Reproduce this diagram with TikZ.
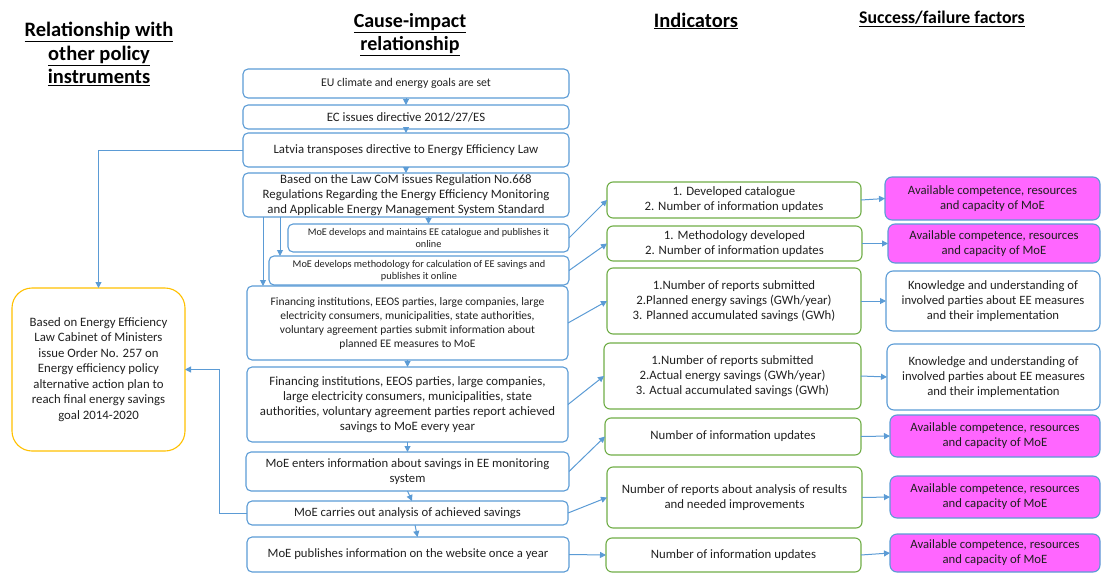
\documentclass[tikz,border=0pt]{standalone}
\usepackage{fontspec}
\setmainfont{Carlito}
\usetikzlibrary{arrows.meta,calc}
\definecolor{lineblue}{HTML}{5B9BD5}
\definecolor{indgreen}{HTML}{70AD47}
\definecolor{factpink}{HTML}{FF66FF}
\definecolor{planorange}{HTML}{FFC000}
\definecolor{txt}{HTML}{202020}

\tikzset{
  base/.style={anchor=north west, inner sep=0pt, outer sep=0pt, align=center, text=txt, line width=1.1pt},
  midbox/.style={base, draw=lineblue, rounded corners=5pt, font=\fontsize{12.8}{15}\selectfont},
  smallbox/.style={midbox, font=\fontsize{10.2}{12}\selectfont},
  planbox/.style={base, draw=planorange, rounded corners=20pt, font=\fontsize{12.8}{15.5}\selectfont},
  indbox/.style={base, draw=indgreen, rounded corners=6pt, font=\fontsize{12.8}{15}\selectfont},
  factbox/.style={base, draw=lineblue, rounded corners=7pt, font=\fontsize{12.7}{15}\selectfont},
  pinkbox/.style={factbox, fill=factpink},
  header/.style={align=center, inner sep=0pt, font=\bfseries\fontsize{20.5}{23.5}\selectfont},
  arr/.style={draw=lineblue, line width=1pt, -{Triangle[length=6pt,width=6pt]}},
}

\begin{document}
\begin{tikzpicture}[x=1pt,y=-1pt]
\useasboundingbox (0,0) rectangle (1101,573);

% column headings
\node[header] (h1) at (99,54) {\underline{Relationship with}\\\underline{other policy}\\\underline{instruments}};
\node[header, font=\bfseries\fontsize{20}{23.5}\selectfont] (h2) at (410,34.5) {\underline{Cause-impact}\\\underline{relationship}};
\node[header] (h3) at (696,21) {\underline{Indicators}};
\node[header, font=\bfseries\fontsize{17.8}{20}\selectfont] (h4) at (942,19) {\underline{Success/failure factors}};

% cause-impact chain
\node[midbox, font=\fontsize{11.8}{15}\selectfont, minimum width=326pt, minimum height=29pt] (m1) at (243,69) {EU climate and energy goals are set};
\node[midbox, minimum width=326pt, minimum height=24pt] (m2) at (243,105) {EC issues directive 2012/27/ES};
\node[midbox, minimum width=326pt, minimum height=34pt] (m3) at (243,133) {Latvia transposes directive to Energy Efficiency Law};
\node[midbox, minimum width=326pt, minimum height=44pt] (m4) at (243,173) {Based on the Law CoM issues Regulation No.668\\Regulations Regarding the Energy Efficiency Monitoring\\and Applicable Energy Management System Standard};
\node[smallbox, minimum width=281pt, minimum height=28pt] (m5) at (288,224) {MoE develops and maintains EE catalogue and publishes it\\online};
\node[smallbox, font=\fontsize{10.3}{12}\selectfont, minimum width=300pt, minimum height=29pt] (m6) at (269,256) {MoE develops methodology for calculation of EE savings and\\publishes it online};
\node[midbox, font=\fontsize{11.5}{14}\selectfont, minimum width=321pt, minimum height=74pt] (m7) at (247,286) {Financing institutions, EEOS parties, large companies, large\\electricity consumers, municipalities, state authorities,\\voluntary agreement parties submit information about\\planned EE measures to MoE};
\node[midbox, font=\fontsize{12.8}{15}\selectfont, minimum width=321pt, minimum height=75pt] (m8) at (247,367) {Financing institutions, EEOS parties, large companies,\\large electricity consumers, municipalities, state\\authorities, voluntary agreement parties report achieved\\savings to MoE every year};
\node[midbox, font=\fontsize{12.7}{15}\selectfont, minimum width=323pt, minimum height=39pt] (m9) at (246,452) {MoE enters information about savings in EE monitoring\\system};
\node[midbox, font=\fontsize{12.7}{15}\selectfont, minimum width=321pt, minimum height=24pt] (m10) at (247,501) {MoE carries out analysis of achieved savings};
\node[midbox, font=\fontsize{12.7}{15}\selectfont, minimum width=322pt, minimum height=35pt] (m11) at (247,537) {MoE publishes information on the website once a year};

% related policy instrument
\node[planbox, minimum width=173pt, minimum height=163pt] (L) at (12,288) {Based on Energy Efficiency\\Law Cabinet of Ministers\\issue Order No. 257 on\\Energy efficiency policy\\alternative action plan to\\reach final energy savings\\goal 2014-2020};

% indicators
\node[indbox, minimum width=254pt, minimum height=36pt] (i1) at (607,182) {1. Developed catalogue\\2. Number of information updates};
\node[indbox, minimum width=255pt, minimum height=35pt] (i2) at (607,226) {1. Methodology developed\\2. Number of information updates};
\node[indbox, minimum width=254pt, minimum height=66pt] (i3) at (607,268) {1.Number of reports submitted\\2.Planned energy savings (GWh/year)\\3. Planned accumulated savings (GWh)};
\node[indbox, minimum width=257pt, minimum height=66pt] (i4) at (604,343) {1.Number of reports submitted\\2.Actual energy savings (GWh/year)\\3. Actual accumulated savings (GWh)};
\node[indbox, minimum width=256pt, minimum height=37pt] (i5) at (605,418) {Number of information updates};
\node[indbox, minimum width=255pt, minimum height=61pt] (i6) at (607,467) {Number of reports about analysis of results\\and needed improvements};
\node[indbox, minimum width=255pt, minimum height=34pt] (i7) at (606,538) {Number of information updates};

% success / failure factors
\node[pinkbox, minimum width=215pt, minimum height=43pt] (f1) at (885,177) {Available competence, resources\\and capacity of MoE};
\node[pinkbox, minimum width=212pt, minimum height=39pt] (f2) at (888,224) {Available competence, resources\\and capacity of MoE};
\node[factbox, minimum width=214pt, minimum height=60pt] (f3) at (886,271) {Knowledge and understanding of\\involved parties about EE measures\\and their implementation};
\node[factbox, minimum width=213pt, minimum height=66pt] (f4) at (887,344) {Knowledge and understanding of\\involved parties about EE measures\\and their implementation};
\node[pinkbox, minimum width=210pt, minimum height=42pt] (f5) at (890,415) {Available competence, resources\\and capacity of MoE};
\node[pinkbox, minimum width=210pt, minimum height=42pt] (f6) at (890,476) {Available competence, resources\\and capacity of MoE};
\node[pinkbox, minimum width=210pt, minimum height=38pt] (f7) at (890,534) {Available competence, resources\\and capacity of MoE};

% chain arrows
\draw[arr] (m1.south) -- (m2.north);
\draw[arr] (m2.south) -- (m3.north);
\draw[arr] (m3.south) -- (m4.north);
\draw[arr] (m5.north |- m4.south) -- (m5.north);
\draw[arr] ([xshift=37pt]m4.south west) -- ([xshift=37pt]m4.south west |- m6.north);
\draw[arr] ([xshift=20pt]m4.south west) -- ([xshift=20pt]m4.south west |- m7.north);
\draw[arr] (m7.south) -- (m8.north);
\draw[arr] (m8.south) -- (m9.north);
\draw[arr] (m9.south) -- ([xshift=4.5pt]m10.north);
\draw[arr] ([xshift=7.5pt]m10.south) -- ([xshift=9.5pt]m11.north);

% links to the action plan
\draw[arr] (m3.west) -| (L.north);
\draw[arr] (m10.west) -- ([xshift=-28pt]m10.west) |- (L.east);

% chain to indicators
\draw[arr] (m5.east) -- (i1.west);
\draw[arr] (m6.east) -- (i2.west);
\draw[arr] (m7.east) -- (i3.west);
\draw[arr] (m8.east) -- (i4.west);
\draw[arr] (m9.east) -- (i5.west);
\draw[arr] (m10.east) -- (i6.west);
\draw[arr] (m11.east) -- (i7.west);

% indicators to factors
\draw[arr] (i1.east) -- (f1.west);
\draw[arr] (i2.east) -- (f2.west);
\draw[arr] (i3.east) -- (f3.west);
\draw[arr] (i4.east) -- (f4.west);
\draw[arr] (i5.east) -- (f5.west);
\draw[arr] (i6.east) -- (f6.west);
\draw[arr] (i7.east) -- (f7.west);
\end{tikzpicture}
\end{document}
